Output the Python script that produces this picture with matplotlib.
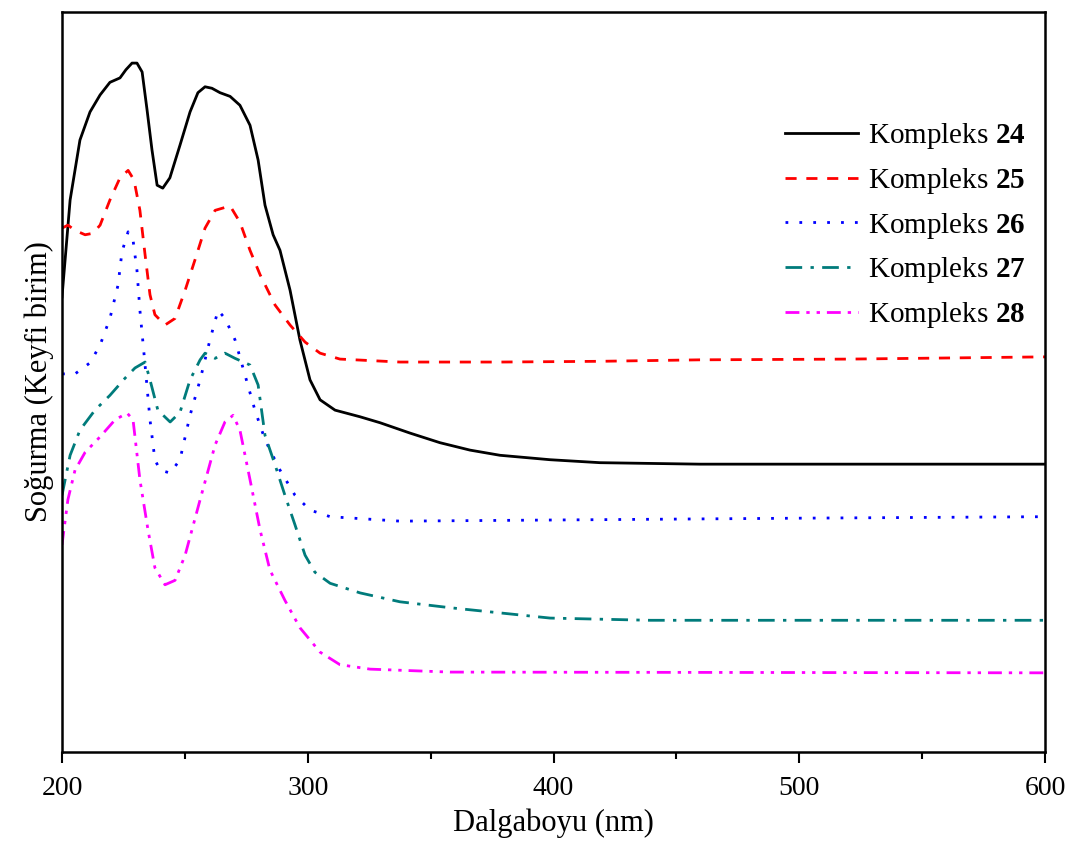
import numpy as np
import matplotlib
matplotlib.use("Agg")
from matplotlib import pyplot as plt

plt.rcParams['font.family'] = ['Liberation Serif', 'DejaVu Serif']
plt.rcParams['mathtext.fontset'] = 'custom'
plt.rcParams['mathtext.bf'] = 'Liberation Serif:bold'
plt.rcParams['mathtext.rm'] = 'Liberation Serif'

# Kompleks 24
x24 = [200, 203.3, 207.3, 211.4, 215.5, 219.5, 223.6, 226, 228.5, 230.5, 232.6, 234.6, 236.6, 238.7,
       241, 243.9, 248, 252.1, 255.3, 258.2, 261, 264.3, 268.4, 272.4, 276.5, 279.8, 282.6, 285.9,
       288.7, 292.8, 296.8, 300.9, 305, 311.1, 321.3, 329.4, 341.6, 353.8, 366, 378.2, 398.6, 418.9,
       459.6, 520.7, 600]
y24 = [0.615, 0.746, 0.827, 0.865, 0.888, 0.905, 0.911, 0.922, 0.931, 0.931, 0.919, 0.868, 0.814, 0.766,
       0.762, 0.776, 0.820, 0.865, 0.891, 0.899, 0.897, 0.891, 0.886, 0.874, 0.847, 0.800, 0.739, 0.699,
       0.678, 0.624, 0.557, 0.503, 0.476, 0.462, 0.453, 0.445, 0.431, 0.418, 0.408, 0.401, 0.395, 0.391,
       0.389, 0.389, 0.389]

# Kompleks 25
x25 = [200, 202.4, 205.3, 209.4, 212.6, 215.5, 219.5, 223.6, 226.9, 229.3, 231.7, 233.8, 235.8, 237.8,
       241.9, 246, 250.1, 254.1, 258.2, 262.3, 268.4, 272.4, 276.5, 280.6, 286.7, 292.8, 298.9, 305,
       313.1, 337.5, 378.2, 418.9, 459.6, 520.7, 600]
y25 = [0.708, 0.712, 0.705, 0.699, 0.701, 0.712, 0.746, 0.776, 0.786, 0.773, 0.732, 0.672, 0.618, 0.591,
       0.577, 0.586, 0.624, 0.665, 0.708, 0.732, 0.738, 0.716, 0.678, 0.645, 0.604, 0.577, 0.554, 0.539,
       0.531, 0.527, 0.527, 0.528, 0.530, 0.531, 0.534]

# Kompleks 26
x26 = [200, 205.3, 211.4, 215.5, 219.5, 222.8, 224.4, 226.9, 228.9, 230.5, 231.7, 233.8, 235.8, 237.8,
       239.9, 244, 248, 252.1, 256.2, 260.2, 263.5, 266.3, 270.4, 274.5, 278.5, 282.6, 288.7, 294.8,
       300.9, 309.1, 337.5, 418.9, 500.3, 600]
y26 = [0.511, 0.511, 0.526, 0.550, 0.586, 0.631, 0.676, 0.703, 0.692, 0.651, 0.597, 0.523, 0.449, 0.395,
       0.381, 0.377, 0.395, 0.455, 0.503, 0.557, 0.597, 0.586, 0.557, 0.509, 0.462, 0.422, 0.381, 0.347,
       0.327, 0.318, 0.312, 0.314, 0.316, 0.318]

# Kompleks 27
x27 = [200, 203.3, 207.3, 213.4, 219.5, 225.6, 229.7, 233.8, 235.8, 239, 244, 248, 252.1, 256.2, 258.2,
       262.3, 266.3, 270.4, 276.5, 279.8, 282.6, 286.7, 290.7, 294.8, 298.9, 302.9, 309.1, 321.3, 337.5,
       357.9, 378.2, 398.6, 439.3, 600]
y27 = [0.347, 0.401, 0.435, 0.462, 0.482, 0.505, 0.519, 0.527, 0.503, 0.462, 0.446, 0.459, 0.503, 0.530,
       0.539, 0.532, 0.539, 0.532, 0.523, 0.496, 0.428, 0.388, 0.347, 0.307, 0.266, 0.243, 0.228, 0.215,
       0.203, 0.195, 0.188, 0.181, 0.178, 0.178]

# Kompleks 28
x28 = [200, 202.4, 205.3, 209.4, 215.5, 221.6, 226.5, 228.9, 231.7, 235, 237.8, 241.9, 246, 250.1, 256.2,
       262.3, 266.3, 269.6, 272.4, 276.5, 280.6, 284.6, 290.7, 296.8, 305, 313.1, 325.3, 357.9, 600]
y28 = [0.280, 0.341, 0.381, 0.405, 0.426, 0.449, 0.458, 0.449, 0.368, 0.300, 0.249, 0.226, 0.232, 0.266,
       0.341, 0.415, 0.446, 0.455, 0.435, 0.368, 0.300, 0.246, 0.205, 0.168, 0.135, 0.118, 0.112, 0.108,
       0.107]

labels = ['24', '25', '26', '27', '28']

fig = plt.figure(figsize=(10.69, 8.48), dpi=100)
ax = fig.add_axes([0.058, 0.1132, 0.9196, 0.8726])

lw = 2.0
ax.plot(x24, y24, color='black', lw=lw, ls='-', label=r'Kompleks $\mathbf{' + labels[0] + '}$')
ax.plot(x25, y25, color='#ff0000', lw=lw, ls=(0, (4, 3.5)), label=r'Kompleks $\mathbf{' + labels[1] + '}$')
ax.plot(x26, y26, color='#0000ff', lw=lw, ls=(0, (1, 4)), label=r'Kompleks $\mathbf{' + labels[2] + '}$')
ax.plot(x27, y27, color='#007b7b', lw=lw, ls=(0, (6, 3, 1.2, 3)), label=r'Kompleks $\mathbf{' + labels[3] + '}$')
ax.plot(x28, y28, color='#ff00ff', lw=lw, ls=(0, (5, 2.5, 1.2, 2.5, 1.2, 2.5)),
        label=r'Kompleks $\mathbf{' + labels[4] + '}$')

ax.set_xlim(200, 600)
ax.set_ylim(0, 1)
ax.set_xticks([200, 300, 400, 500, 600])
ax.set_xticks([250, 350, 450, 550], minor=True)
ax.set_yticks([])
ax.tick_params(axis='x', which='major', direction='out', length=8, width=1.5, labelsize=20, pad=9)
ax.tick_params(axis='x', which='minor', direction='out', length=5, width=1.5)
for s in ax.spines.values():
    s.set_linewidth(1.8)

ax.set_xlabel('Dalgaboyu (nm)', fontsize=22, labelpad=6)
ax.set_ylabel('Soğurma (Keyfi birim)', fontsize=22, labelpad=6)

ax.legend(loc='upper right', bbox_to_anchor=(0.992, 0.868), frameon=False, fontsize=21,
          handlelength=2.5, labelspacing=0.5, handletextpad=0.35, borderaxespad=0)

fig.savefig('out.png', dpi=100)
